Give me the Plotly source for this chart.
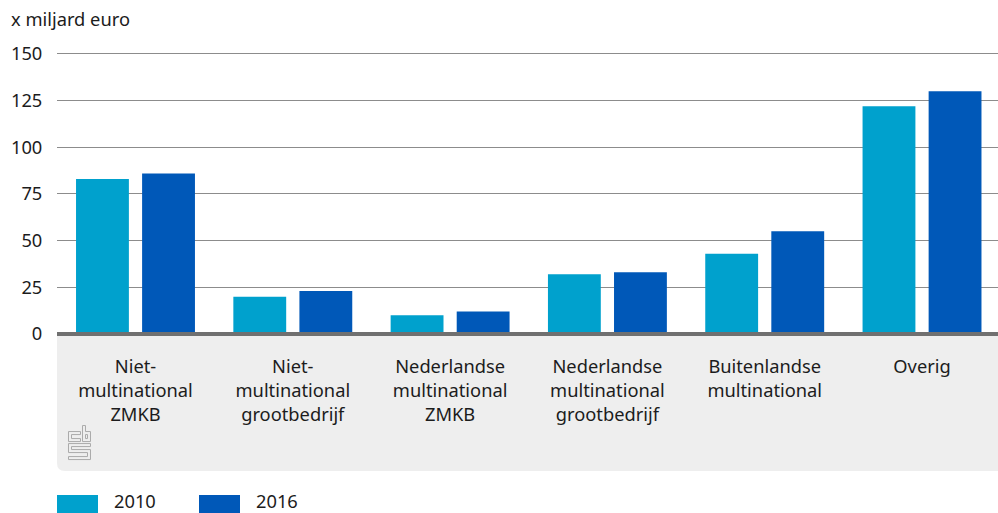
import re
import plotly.graph_objects as go

categories = ["Niet-<br>multinational<br>ZMKB", "Niet-<br>multinational<br>grootbedrijf",
              "Nederlandse<br>multinational<br>ZMKB", "Nederlandse<br>multinational<br>grootbedrijf",
              "Buitenlandse<br>multinational", "Overig"]
values_2010 = [83, 20, 10, 32, 43, 122]
values_2016 = [86, 23, 12, 33, 55, 130]
y_ticks = [0, 25, 50, 75, 100, 125, 150]
C2010, C2016 = "#00A1CD", "#0058B8"
TXT = "#1c1c1c"
FONT = "Noto Sans"
FS = 18.3
W, H = 998, 513
L, B = 57, 334
Y_MAX = 151
T = B - Y_MAX * 280 / 150

def px(x): return (x - L) / (W - L)
def py(y): return (B - y) / (B - T)

fig = go.Figure()
fig.add_bar(x=categories, y=values_2010, name="2010", marker=dict(color=C2010, line_width=0))
fig.add_bar(x=categories, y=values_2016, name="2016", marker=dict(color=C2016, line_width=0))

shapes = []
panel = (f"M {px(57)},{py(336)} L {px(998)},{py(336)} L {px(998)},{py(471)} "
         f"L {px(65)},{py(471)} Q {px(57)},{py(471)} {px(57)},{py(463)} Z")
shapes.append(dict(type="path", xref="paper", yref="paper", path=panel, fillcolor="#EEEEEE", line_width=0, layer="below"))
shapes.append(dict(type="rect", xref="paper", yref="paper", x0=0, x1=1, y0=py(336), y1=py(332), fillcolor="#707070", line_width=0, layer="above"))
for x0, c in [(57, C2010), (199, C2016)]:
    shapes.append(dict(type="rect", xref="paper", yref="paper", x0=px(x0), x1=px(x0 + 41), y0=py(495), y1=py(513), fillcolor=c, line_width=0))

logo = ["M 68.5,431.5 H 80.5 V 434.5 H 71.5 V 438.5 H 80.5 V 441.5 H 68.5 Z",
        "M 82.5,425.5 H 85.5 V 431.5 H 90.5 V 441.5 H 82.5 Z",
        "M 85.5,434.5 H 87.5 V 438.5 H 85.5 Z",
        "M 68.5,443.5 H 90.5 V 446.5 H 71.5 V 449.5 H 90.5 V 459.5 H 68.5 V 456.5 H 87.5 V 452.5 H 68.5 Z"]
def conv(p):
    out, x, y, cmd = [], 0, 0, "M"
    for t in re.findall(r"[MHVZ]|[\d.,]+", p):
        if t in "MHVZ":
            cmd = t
            if t == "Z":
                out.append("Z")
        else:
            if cmd == "M":
                x, y = map(float, t.split(","))
            elif cmd == "H":
                x = float(t)
            else:
                y = float(t)
            out.append(f"{'M' if cmd == 'M' else 'L'} {px(x):.6f},{py(y):.6f}")
    return " ".join(out)
for p in logo:
    shapes.append(dict(type="path", xref="paper", yref="paper", path=conv(p), line=dict(color="#ABABAB", width=1)))

annos = [
    dict(text="x miljard euro", xref="paper", yref="paper", x=px(9), y=py(19), xanchor="left", yanchor="middle", showarrow=False),
    dict(text="2010", xref="paper", yref="paper", x=px(112), y=py(500.5), xanchor="left", yanchor="middle", showarrow=False),
    dict(text="2016", xref="paper", yref="paper", x=px(254), y=py(500.5), xanchor="left", yanchor="middle", showarrow=False),
]

fig.update_layout(
    width=W, height=H, autosize=False,
    margin=dict(l=L, r=0, t=T, b=H - B, pad=0),
    paper_bgcolor="white", plot_bgcolor="white",
    barmode="group", bargap=0.16, bargroupgap=0.2,
    showlegend=False, shapes=shapes, annotations=annos,
    font=dict(family=FONT, size=FS, color=TXT),
    xaxis=dict(range=[-0.499, 5.483], tickmode="array", tickvals=categories, ticktext=categories, ticks="outside", ticklen=16, tickcolor="rgba(0,0,0,0)",
               tickfont=dict(size=FS, color=TXT), showgrid=False, zeroline=False, showline=False, tickangle=0),
    yaxis=dict(range=[0, Y_MAX], tickvals=y_ticks, showgrid=True, gridcolor="#8C8C8C", gridwidth=1, zeroline=False, showline=False,
               ticks="outside", ticklen=10, tickcolor="rgba(0,0,0,0)", tickfont=dict(size=FS, color=TXT)),
)
fig.write_html("out.html", config=dict(displayModeBar=False),
               post_script="document.body.style.margin='0';document.body.style.overflow='hidden';")
